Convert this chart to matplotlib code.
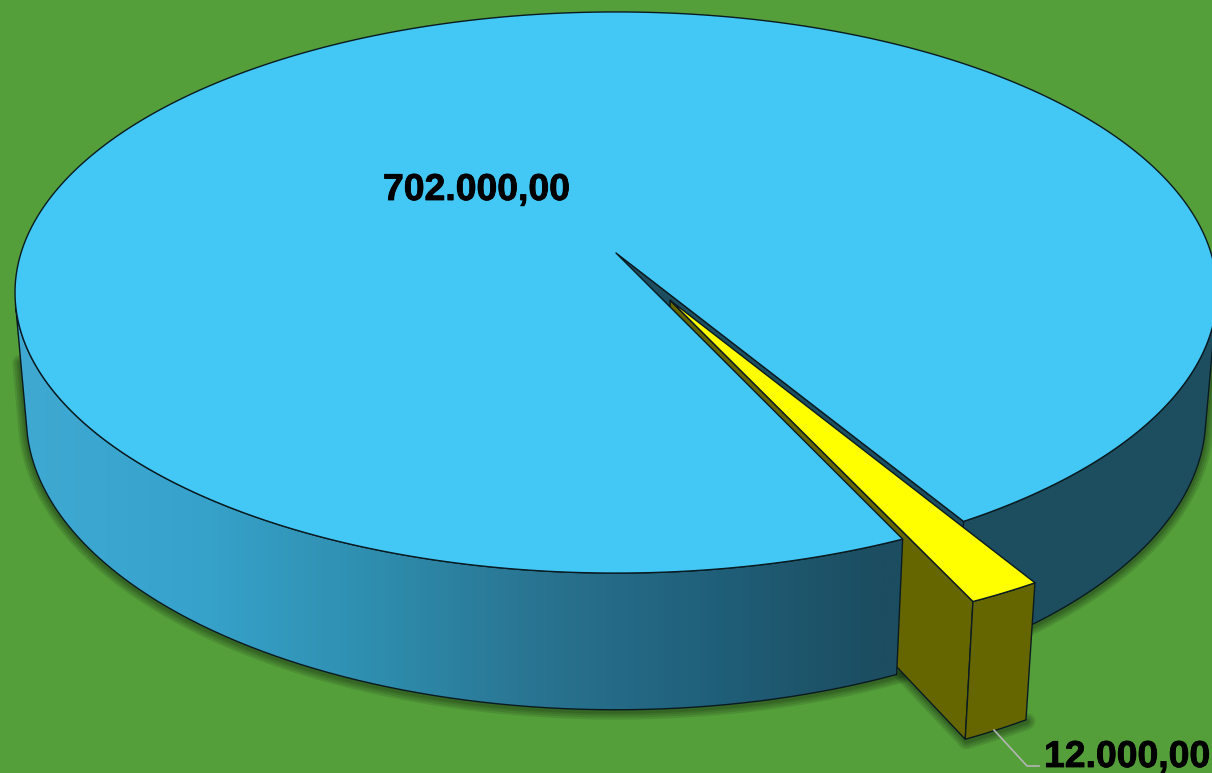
import numpy as np
import matplotlib
matplotlib.use('Agg')
import matplotlib.pyplot as plt
import matplotlib.patheffects as pe
from matplotlib.colors import LinearSegmentedColormap
from matplotlib.patches import PathPatch
from matplotlib.path import Path

# slice values
labels = ['702.000,00', '12.000,00']
values = [702000, 12000]

start_deg = 59.1    # where the small slice starts
explode = 0.19      # how far the small slice is pulled out

# colours
bg = '#549f3a'
top_blue = '#43c7f5'
dark_blue = '#1c4e60'
yellow = '#ffff00'
olive = '#666600'
edge = '#0a1a20'
grad_x = [15, 192, 364, 537, 709, 881, 910]
grad_col = ['#3fa9d2', '#37a3cc', '#2f8fb0', '#297491', '#20607a', '#1c4d60', '#1c4d60']

# camera, fitted on the picture (pixels)
cx, cy = 616, 253
a, b = 595, 275
k, m, e = 0.1408, 0.0187, 126


def project(u, v, z=0.0):
    w = 1 - k * v + m * z
    return np.column_stack([cx + a * u / w, cy + (b * v + e * z) / w])


def rim(t, z=0.0, du=0.0, dv=0.0):
    return project(np.cos(t) + du, np.sin(t) + dv, z)


def poly(ax, pts, color, z, lw=1.0, ec=edge):
    ax.fill(pts[:, 0], pts[:, 1], facecolor=color, edgecolor=ec, linewidth=lw,
            zorder=z, joinstyle='round')


sweep = 2 * np.pi * values[1] / sum(values)
t0 = np.deg2rad(start_deg)
t1 = t0 + sweep
mid = (t0 + t1) / 2
du, dv = explode * np.cos(mid), explode * np.sin(mid)

# rim angles where a wall turns away from the viewer
t_all = np.linspace(-np.pi / 2, 3 * np.pi / 2, 2000)
tp = rim(t_all)
bt = rim(t_all, 1.0)
tang = np.gradient(tp, axis=0)
down = bt - tp
cross = tang[:, 0] * down[:, 1] - tang[:, 1] * down[:, 0]
vis = t_all[cross < 0] if np.mean(np.sin(t_all[cross < 0])) > 0 else t_all[cross > 0]
t_right, t_left = vis.min(), vis.max()

fig = plt.figure(figsize=(12.12, 7.73), dpi=100, facecolor=bg)
ax = fig.add_axes([0, 0, 1, 1])
ax.set_facecolor(bg)
ax.axis('off')

# outline pieces
t_front = np.linspace(t1, t_left, 300)
t_back = np.linspace(t_right, t0, 150)
t_slice = np.linspace(t0, t1, 30)
front = np.vstack([rim(t_front), rim(t_front, 1.0)[::-1]])
back = np.vstack([rim(t_back), rim(t_back, 1.0)[::-1]])
outer = np.vstack([rim(t_slice, 0, du, dv), rim(t_slice, 1.0, du, dv)[::-1]])
apex = project(np.array([du]), np.array([dv]))
apex_low = project(np.array([du]), np.array([dv]), 1.0)
side = np.vstack([apex, rim(np.array([t1]), 0, du, dv),
                  rim(np.array([t1]), 1.0, du, dv), apex_low])

# soft shadow, stacked strokes
t_sil = np.linspace(t_right, t_left, 400)
sil = rim(t_sil, 1.0)
sil = np.vstack([rim(t_sil[:1], 0.45), sil, rim(t_sil[-1:], 0.45)])
low = np.vstack([side[3:1:-1], outer[-1:29:-1]])
for lw in [12, 9, 6, 3.5]:
    ax.plot(sil[:, 0], sil[:, 1] + 1.5, color='black', alpha=0.1, lw=lw, zorder=1,
            solid_capstyle='round')
    ax.plot(low[:, 0] + 1, low[:, 1] + 1.5, color='black', alpha=0.1, lw=lw, zorder=1,
            solid_capstyle='round')

# back wall and the inner face of the notch
poly(ax, back, dark_blue, 2)
centre = project(np.zeros(1), np.zeros(1))
centre_low = project(np.zeros(1), np.zeros(1), 1.0)
inner = np.vstack([centre, rim(np.array([t0])), rim(np.array([t0]), 1.0), centre_low])
poly(ax, inner, dark_blue, 3)

# left face of the small slice goes behind the big one
poly(ax, side, olive, 4)

# front wall with gradient
cmap = LinearSegmentedColormap.from_list(
    'wall', [((x - grad_x[0]) / (grad_x[-1] - grad_x[0]), c) for x, c in zip(grad_x, grad_col)])
im = ax.imshow(np.linspace(0, 1, 512)[None, :], cmap=cmap, aspect='auto', zorder=5,
               extent=[grad_x[0], grad_x[-1], 773, 0])
clip = PathPatch(Path(np.vstack([front, front[:1]])), transform=ax.transData,
                 facecolor='none', edgecolor=edge, linewidth=1.0, zorder=6)
ax.add_patch(clip)
im.set_clip_path(clip)

# top of the big slice
t_big = np.linspace(t1, t0 + 2 * np.pi, 800)
poly(ax, np.vstack([centre, rim(t_big)]), top_blue, 7)

# small slice
poly(ax, outer, olive, 8)
poly(ax, np.vstack([apex, rim(t_slice, 0, du, dv)]), yellow, 9)

# labels
ax.plot([994, 1027, 1039], [730, 766, 766], color='#b4b4b4', lw=1.2, zorder=10)
heavy = [pe.withStroke(linewidth=0.6, foreground='black')]
ax.text(383, 200, labels[0], family='Liberation Sans', fontweight='bold', fontsize=26.9,
        color='black', va='baseline', zorder=11, path_effects=heavy)
ax.text(1044, 767, labels[1], family='Liberation Sans', fontweight='bold', fontsize=26.9,
        color='black', va='baseline', zorder=11, path_effects=heavy)

ax.set_xlim(0, 1212)
ax.set_ylim(773, 0)
fig.savefig('out.png', dpi=100, facecolor=bg)
